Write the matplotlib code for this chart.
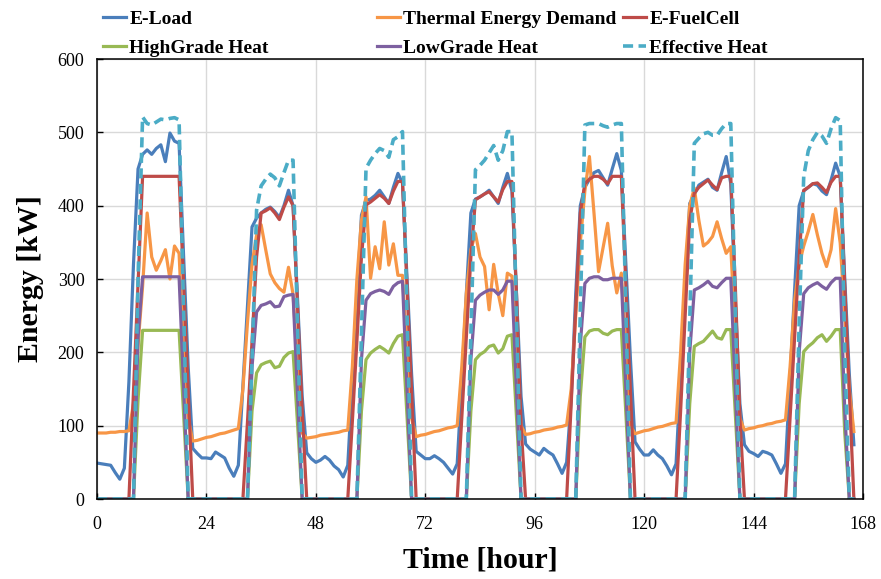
import matplotlib
matplotlib.use("Agg")
import matplotlib.pyplot as plt
import numpy as np

plt.rcParams["font.family"] = ["Liberation Serif", "DejaVu Serif"]

# hourly values, one line per day (hour 0 .. 166)
e_load = [
    49, 48, 47, 46, 36, 27, 42, 160, 320, 450, 470, 476, 470, 478, 483, 460, 499, 488, 485, 330, 180, 69, 62, 56,
    56, 55, 64, 60, 56, 42, 31, 46, 155, 265, 371, 383, 390, 395, 398, 392, 384, 400, 421, 400, 270, 140, 63, 55,
    50, 53, 58, 53, 45, 40, 30, 46, 160, 275, 387, 407, 409, 414, 421, 412, 403, 425, 444, 431, 300, 170, 65, 60,
    55, 55, 59, 55, 50, 42, 34, 48, 160, 280, 390, 409, 412, 416, 421, 412, 403, 425, 444, 420, 280, 140, 75, 68,
    64, 60, 69, 64, 60, 48, 35, 50, 135, 280, 400, 425, 436, 445, 448, 438, 428, 450, 471, 448, 320, 190, 78, 68,
    60, 60, 67, 60, 55, 45, 33, 48, 170, 290, 403, 415, 428, 432, 436, 425, 421, 445, 467, 430, 270, 130, 74, 65,
    62, 58, 65, 63, 60, 48, 35, 48, 165, 285, 400, 420, 425, 430, 428, 420, 415, 435, 458, 440, 300, 170, 74,
]
thermal_demand = [
    90, 90, 90, 91, 91, 92, 92, 93, 130, 210, 290, 390, 330, 312, 325, 340, 300, 345, 335, 200, 110, 79, 80, 82,
    84, 85, 87, 89, 90, 92, 94, 96, 150, 240, 320, 360, 374, 340, 307, 295, 287, 282, 316, 279, 180, 90, 83, 84,
    85, 87, 88, 89, 90, 91, 93, 94, 180, 300, 380, 412, 301, 344, 314, 378, 319, 348, 305, 305, 200, 110, 85, 87,
    88, 90, 92, 93, 95, 97, 98, 100, 180, 280, 340, 362, 330, 317, 258, 320, 280, 250, 308, 304, 200, 100, 88, 89,
    91, 92, 94, 95, 96, 98, 99, 101, 150, 250, 350, 420, 467, 390, 310, 343, 376, 318, 281, 308, 200, 100, 89, 91,
    93, 94, 96, 98, 99, 101, 103, 104, 200, 320, 400, 424, 380, 345, 350, 358, 378, 355, 335, 344, 220, 110, 94, 96,
    97, 99, 100, 102, 103, 105, 106, 108, 180, 270, 320, 345, 365, 388, 360, 335, 317, 340, 396, 349, 250, 150, 92,
]
e_fuelcell = [
    0, 0, 0, 0, 0, 0, 0, 0, 147, 293, 440, 440, 440, 440, 440, 440, 440, 440, 440, 293, 147, 0, 0, 0,
    0, 0, 0, 0, 0, 0, 0, 0, 0, 105, 215, 330, 390, 393, 397, 390, 381, 398, 412, 400, 260, 120, 0, 0,
    0, 0, 0, 0, 0, 0, 0, 0, 105, 215, 330, 401, 405, 410, 415, 410, 403, 420, 433, 433, 290, 145, 0, 0,
    0, 0, 0, 0, 0, 0, 0, 0, 110, 220, 330, 408, 412, 416, 419, 412, 405, 422, 433, 433, 280, 100, 0, 0,
    0, 0, 0, 0, 0, 0, 0, 0, 130, 260, 390, 430, 436, 440, 440, 436, 430, 440, 440, 440, 290, 145, 0, 0,
    0, 0, 0, 0, 0, 0, 0, 0, 120, 250, 380, 417, 425, 430, 435, 428, 422, 438, 440, 440, 290, 110, 0, 0,
    0, 0, 0, 0, 0, 0, 0, 0, 110, 220, 330, 421, 425, 430, 431, 425, 418, 432, 440, 440, 290, 145, 0,
]
highgrade_heat = [
    0, 0, 0, 0, 0, 0, 0, 0, 0, 135, 230, 230, 230, 230, 230, 230, 230, 230, 230, 115, 0, 0, 0, 0,
    0, 0, 0, 0, 0, 0, 0, 0, 0, 0, 120, 172, 183, 186, 188, 179, 181, 193, 199, 201, 100, 0, 0, 0,
    0, 0, 0, 0, 0, 0, 0, 0, 0, 0, 120, 190, 199, 204, 208, 204, 199, 212, 222, 224, 112, 0, 0, 0,
    0, 0, 0, 0, 0, 0, 0, 0, 0, 0, 120, 190, 197, 201, 208, 210, 199, 205, 222, 224, 112, 0, 0, 0,
    0, 0, 0, 0, 0, 0, 0, 0, 0, 0, 140, 221, 229, 231, 231, 226, 224, 229, 231, 231, 115, 0, 0, 0,
    0, 0, 0, 0, 0, 0, 0, 0, 0, 0, 130, 208, 212, 215, 222, 229, 220, 218, 231, 231, 115, 0, 0, 0,
    0, 0, 0, 0, 0, 0, 0, 0, 0, 0, 130, 201, 208, 213, 220, 224, 215, 222, 231, 231, 90, 0, 0,
]
lowgrade_heat = [
    0, 0, 0, 0, 0, 0, 0, 0, 0, 220, 303, 303, 303, 303, 303, 303, 303, 303, 303, 150, 0, 0, 0, 0,
    0, 0, 0, 0, 0, 0, 0, 0, 0, 0, 180, 255, 264, 266, 269, 262, 263, 276, 278, 279, 140, 0, 0, 0,
    0, 0, 0, 0, 0, 0, 0, 0, 0, 0, 190, 271, 280, 283, 285, 283, 279, 290, 295, 297, 150, 0, 0, 0,
    0, 0, 0, 0, 0, 0, 0, 0, 0, 0, 190, 271, 278, 282, 285, 285, 279, 285, 297, 297, 150, 0, 0, 0,
    0, 0, 0, 0, 0, 0, 0, 0, 0, 0, 210, 294, 301, 303, 303, 299, 299, 301, 301, 301, 150, 0, 0, 0,
    0, 0, 0, 0, 0, 0, 0, 0, 0, 0, 200, 285, 288, 292, 297, 290, 288, 295, 301, 301, 150, 0, 0, 0,
    0, 0, 0, 0, 0, 0, 0, 0, 0, 0, 200, 280, 288, 292, 295, 290, 286, 295, 301, 301, 120, 0, 0,
]
effective_heat = [
    0, 0, 0, 0, 0, 0, 0, 0, 0, 300, 521, 512, 510, 514, 518, 517, 519, 520, 517, 260, 0, 0, 0, 0,
    0, 0, 0, 0, 0, 0, 0, 0, 0, 0, 190, 394, 427, 436, 443, 438, 427, 445, 462, 462, 230, 0, 0, 0,
    0, 0, 0, 0, 0, 0, 0, 0, 0, 0, 225, 451, 462, 471, 478, 475, 466, 490, 494, 501, 250, 0, 0, 0,
    0, 0, 0, 0, 0, 0, 0, 0, 0, 0, 225, 449, 455, 462, 472, 482, 462, 475, 501, 501, 250, 0, 0, 0,
    0, 0, 0, 0, 0, 0, 0, 0, 0, 0, 255, 510, 512, 512, 512, 509, 507, 510, 512, 512, 256, 0, 0, 0,
    0, 0, 0, 0, 0, 0, 0, 0, 0, 0, 240, 485, 492, 498, 500, 496, 496, 505, 512, 512, 256, 0, 0, 0,
    0, 0, 0, 0, 0, 0, 0, 0, 0, 0, 240, 440, 475, 490, 500, 495, 485, 505, 520, 516, 200, 0, 0,
]
hours = np.arange(len(e_load))

x_ticks = [0, 24, 48, 72, 96, 120, 144, 168]
y_ticks = [0, 100, 200, 300, 400, 500, 600]

fig = plt.figure(figsize=(8.81, 5.79), dpi=100)
ax = fig.add_axes([97 / 881, 1 - 499 / 579, 766 / 881, 440 / 579])

lw = 2.3
l_load, = ax.plot(hours, e_load, color="#4a7ebb", lw=lw, label="E-Load")
l_th, = ax.plot(hours, thermal_demand, color="#f79646", lw=lw, label="Thermal Energy Demand")
l_fc, = ax.plot(hours, e_fuelcell, color="#be4b48", lw=lw, label="E-FuelCell")
l_hg, = ax.plot(hours, highgrade_heat, color="#98b954", lw=lw, label="HighGrade Heat")
l_lg, = ax.plot(hours, lowgrade_heat, color="#7d60a0", lw=lw, label="LowGrade Heat")
l_eff, = ax.plot(hours, effective_heat, color="#4bacc6", lw=lw + 0.3,
                 linestyle=(0, (2.8, 1.5)), label="Effective Heat")

ax.set_xlim(0, 168)
ax.set_ylim(0, 600)
ax.set_xticks(x_ticks)
ax.set_yticks(y_ticks)
ax.grid(True, color="#d9d9d9", linewidth=1.0)
ax.set_axisbelow(True)
for s in ax.spines.values():
    s.set_linewidth(1.1)
    s.set_color("black")
ax.tick_params(direction="in", length=4, width=1, labelsize=13)
ax.tick_params(axis="x", pad=12)
ax.tick_params(axis="y", pad=9)

ax.set_xlabel("Time [hour]", fontsize=21.5, fontweight="bold", labelpad=10)
ax.set_ylabel("Energy [kW]", fontsize=21.5, fontweight="bold", labelpad=10)

leg_kw = dict(loc="upper left", frameon=False, borderpad=0, borderaxespad=0,
              handlelength=1.2, handletextpad=0.15, labelspacing=0.6,
              prop={"size": 14, "weight": "bold"})
fig.legend([l_load, l_hg], ["E-Load", "HighGrade Heat"],
           bbox_to_anchor=(103 / 881, 1 - 10 / 579), **leg_kw)
fig.legend([l_th, l_lg], ["Thermal Energy Demand", "LowGrade Heat"],
           bbox_to_anchor=(377 / 881, 1 - 10 / 579), **leg_kw)
fig.legend([l_fc, l_eff], ["E-FuelCell", "Effective Heat"],
           bbox_to_anchor=(623 / 881, 1 - 10 / 579), **leg_kw)

fig.savefig("out.png", dpi=100)
